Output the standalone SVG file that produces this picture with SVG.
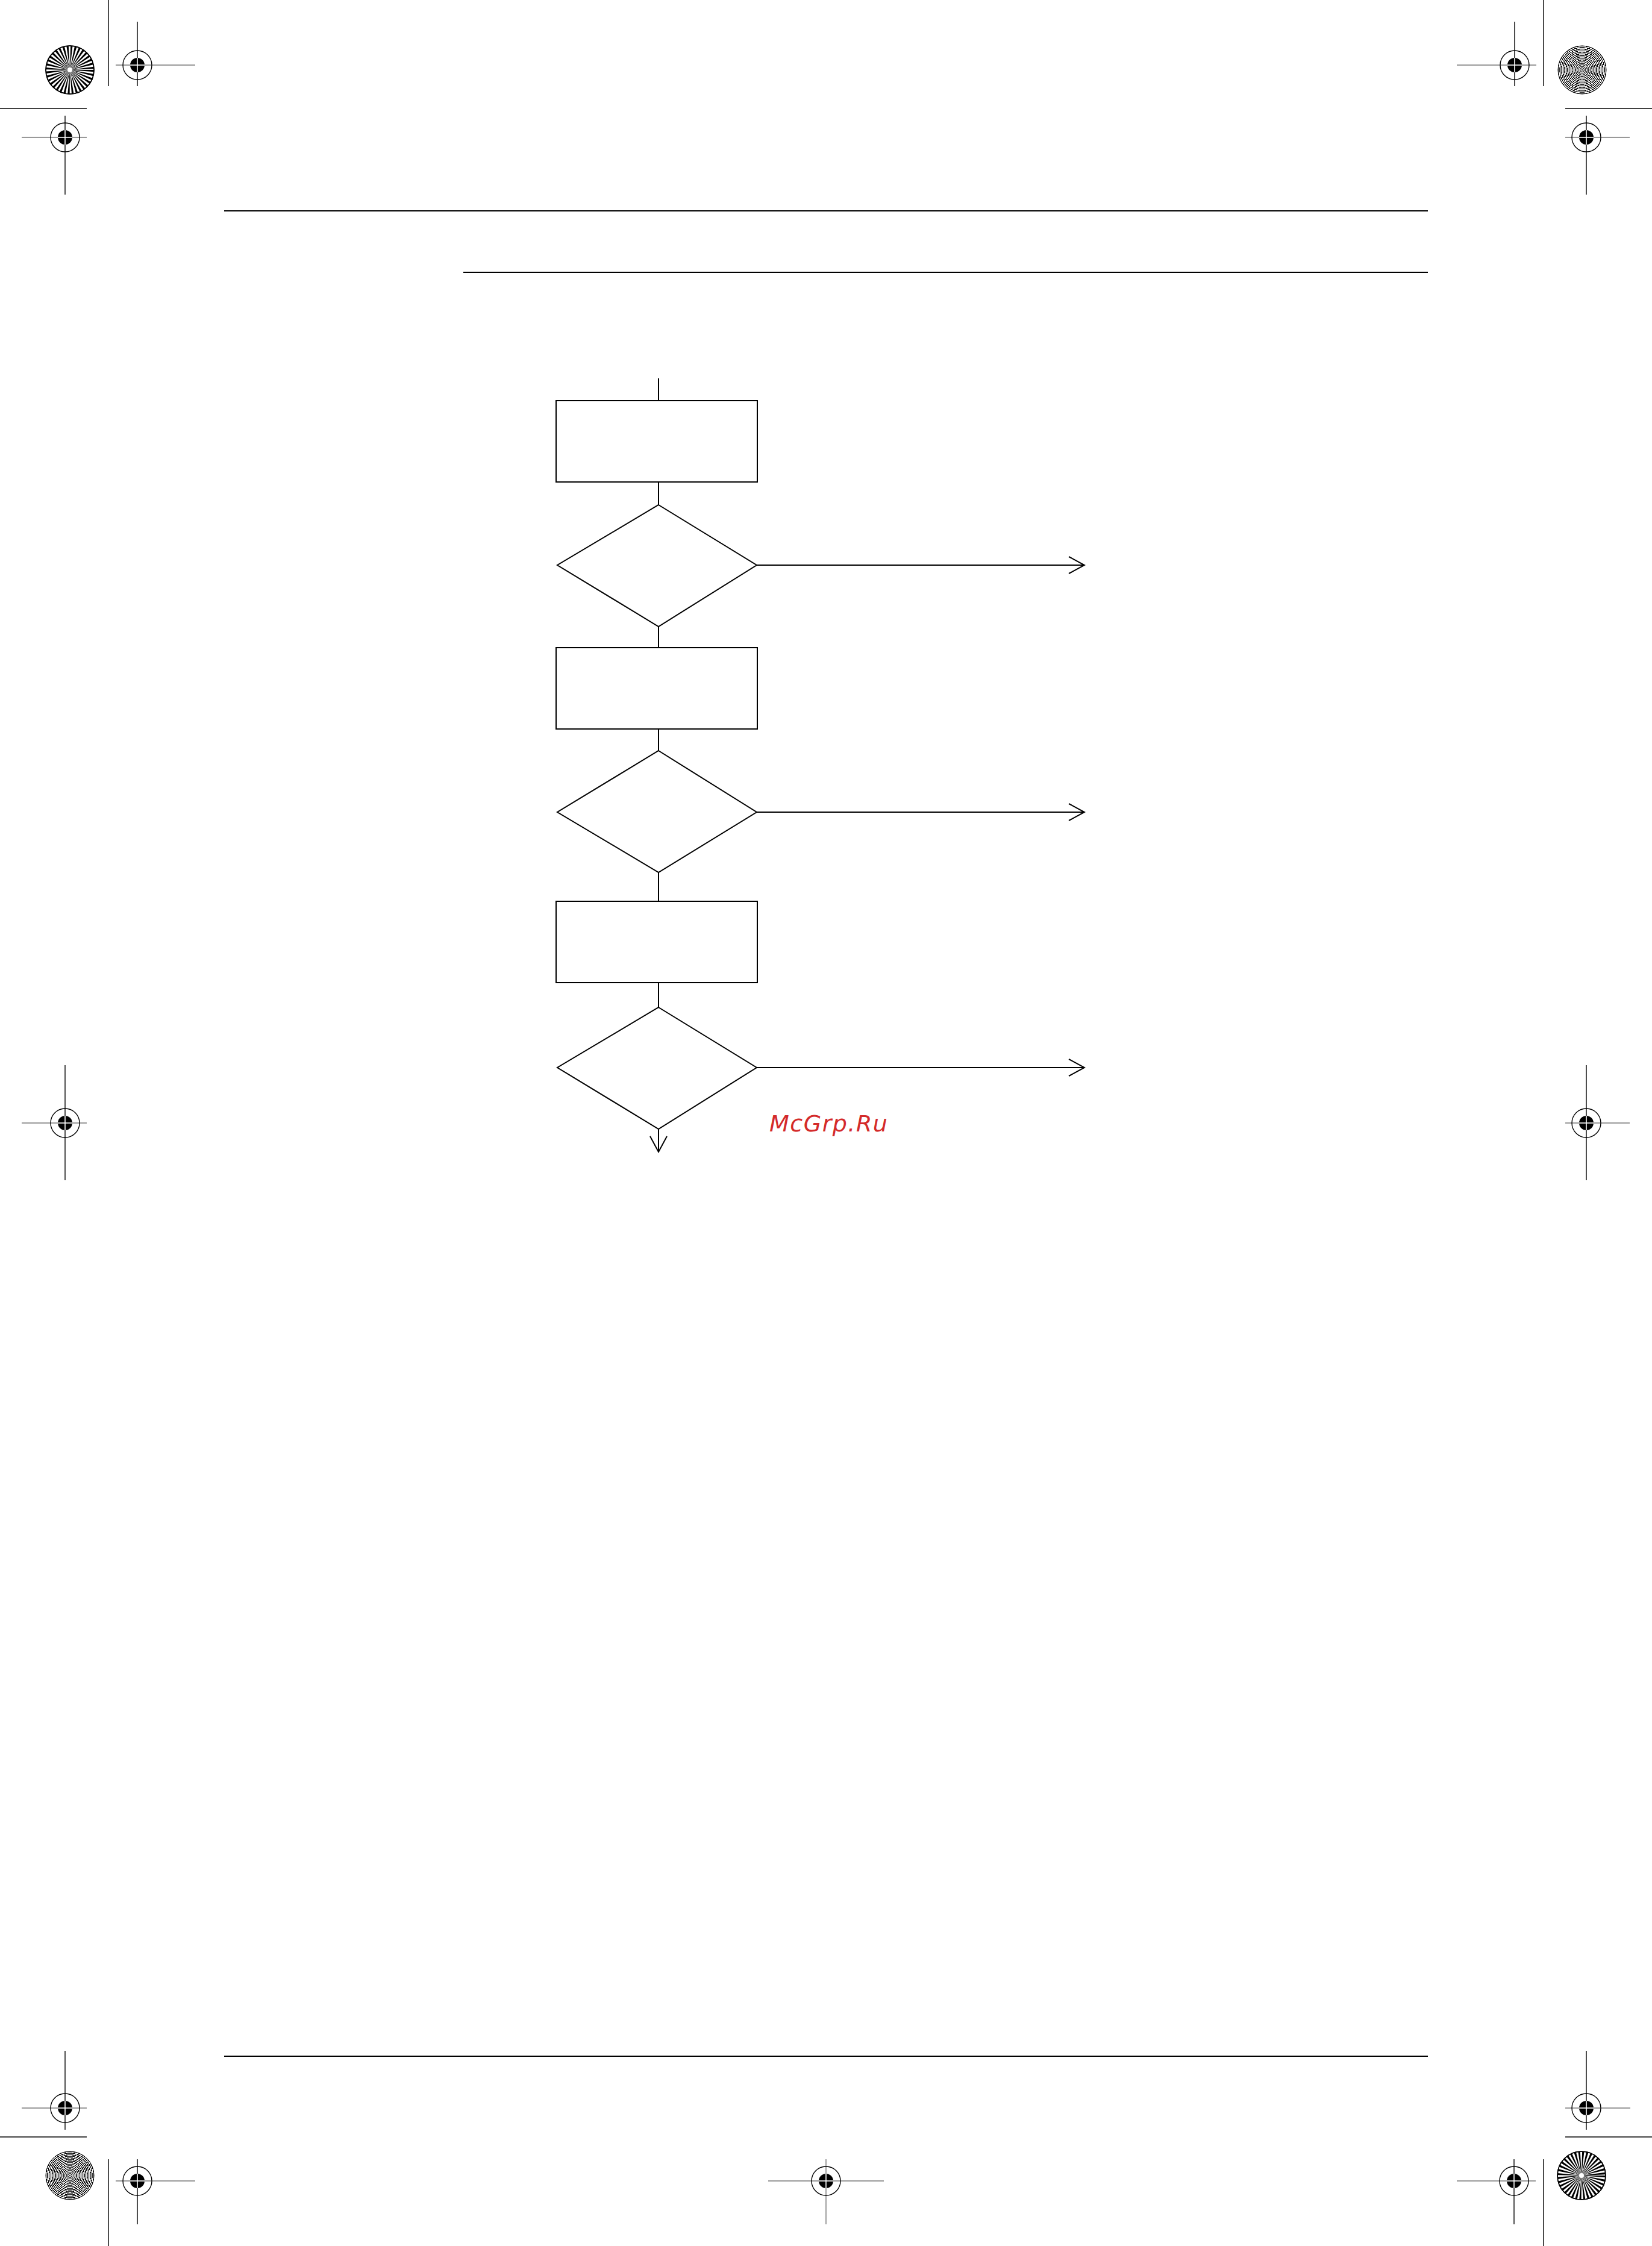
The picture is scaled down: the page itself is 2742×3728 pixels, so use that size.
<svg xmlns="http://www.w3.org/2000/svg" width="2742" height="3728" viewBox="0 0 2742 3728">
<style>
.pl{stroke:#000;stroke-width:2.2;fill:none}
.fl{stroke:#000;stroke-width:2;fill:#fff}
.cn{stroke:#000;stroke-width:2;fill:none}
.hl{stroke:#777;stroke-width:1.4}
.vl{stroke:#000;stroke-width:1.4}
.ring{stroke:#000;stroke-width:1.4;fill:none}
.wm{font-family:"DejaVu Sans",sans-serif;font-style:italic;font-size:38px;letter-spacing:1.5px;fill:#d42a2a}
</style>
<defs>
<marker id="ah" markerUnits="userSpaceOnUse" markerWidth="30" markerHeight="32" viewBox="0 0 30 32" refX="28" refY="16" orient="auto">
<path d="M2,2 L28,16 L2,30" fill="none" stroke="#000" stroke-width="2"/>
</marker>
<g id="reg">
<line class="hl" x1="-72" y1="0" x2="96" y2="0"/>
<line class="vl" x1="0" y1="-72" x2="0" y2="95"/>
<circle class="ring" r="24"/>
<circle r="12" fill="#000"/>
<line x1="-12" y1="0" x2="12" y2="0" stroke="#fff" stroke-width="1.6"/>
<line x1="0" y1="-12" x2="0" y2="12" stroke="#fff" stroke-width="1.6"/>
</g>
<g id="star">
<circle r="40" fill="#fff" stroke="#000" stroke-width="1.5"/>
<circle r="20" fill="none" stroke="#000" stroke-width="40" stroke-dasharray="1.745 1.745"/>
<circle r="40" fill="none" stroke="#000" stroke-width="1.5"/>
<circle r="4" fill="#fff"/>
</g>
<radialGradient id="rg" gradientUnits="userSpaceOnUse" cx="0" cy="0" r="2.6" spreadMethod="repeat">
<stop offset="0" stop-color="#000"/>
<stop offset="0.5" stop-color="#000"/>
<stop offset="0.5" stop-color="#fff"/>
<stop offset="1" stop-color="#fff"/>
</radialGradient>
<clipPath id="cc"><circle r="40"/></clipPath>
<g id="conc">
<circle r="40" fill="url(#rg)"/>
<g clip-path="url(#cc)" opacity="0.35">
<rect x="-40" y="-5" width="80" height="10" fill="#999"/>
<rect x="-5" y="-40" width="10" height="80" fill="#999"/>
</g>
<circle r="40" fill="none" stroke="#000" stroke-width="1"/>
</g>
</defs>
<rect width="2742" height="3728" fill="#fff"/>

<g id="page-marks">
<line class="vl" x1="180" y1="0" x2="180" y2="143"/>
<line class="vl" x1="0" y1="180" x2="144" y2="180"/>
<line class="vl" x1="2562" y1="0" x2="2562" y2="143"/>
<line class="vl" x1="2598" y1="180" x2="2742" y2="180"/>
<line class="vl" x1="0" y1="3547" x2="144" y2="3547"/>
<line class="vl" x1="180" y1="3584" x2="180" y2="3728"/>
<line class="vl" x1="2598" y1="3547" x2="2742" y2="3547"/>
<line class="vl" x1="2562" y1="3584" x2="2562" y2="3728"/>
<use href="#star" x="116" y="116"/>
<use href="#conc" x="2626" y="116"/>
<use href="#conc" x="116" y="3611"/>
<use href="#star" x="2625" y="3611"/>
<!-- registration marks -->
<g transform="translate(228,108)"><line class="hl" x1="-36" y1="0" x2="96" y2="0"/><line class="vl" x1="0" y1="-72" x2="0" y2="35"/><circle class="ring" r="24"/><circle r="12"/><line x1="-12" x2="12" stroke="#fff" stroke-width="1.6"/><line y1="-12" y2="12" stroke="#fff" stroke-width="1.6"/></g>
<g transform="translate(108,228)"><line class="hl" x1="-72" y1="0" x2="36" y2="0"/><line class="vl" x1="0" y1="-36" x2="0" y2="95"/><circle class="ring" r="24"/><circle r="12"/><line x1="-12" x2="12" stroke="#fff" stroke-width="1.6"/><line y1="-12" y2="12" stroke="#fff" stroke-width="1.6"/></g>
<g transform="translate(2514,108)"><line class="hl" x1="-96" y1="0" x2="36" y2="0"/><line class="vl" x1="0" y1="-72" x2="0" y2="35"/><circle class="ring" r="24"/><circle r="12"/><line x1="-12" x2="12" stroke="#fff" stroke-width="1.6"/><line y1="-12" y2="12" stroke="#fff" stroke-width="1.6"/></g>
<g transform="translate(2633,228)"><line class="hl" x1="-35" y1="0" x2="72" y2="0"/><line class="vl" x1="0" y1="-36" x2="0" y2="95"/><circle class="ring" r="24"/><circle r="12"/><line x1="-12" x2="12" stroke="#fff" stroke-width="1.6"/><line y1="-12" y2="12" stroke="#fff" stroke-width="1.6"/></g>
<g transform="translate(108,1864)"><line class="hl" x1="-72" y1="0" x2="36" y2="0"/><line class="vl" x1="0" y1="-96" x2="0" y2="95"/><circle class="ring" r="24"/><circle r="12"/><line x1="-12" x2="12" stroke="#fff" stroke-width="1.6"/><line y1="-12" y2="12" stroke="#fff" stroke-width="1.6"/></g>
<g transform="translate(2633,1864)"><line class="hl" x1="-35" y1="0" x2="72" y2="0"/><line class="vl" x1="0" y1="-96" x2="0" y2="95"/><circle class="ring" r="24"/><circle r="12"/><line x1="-12" x2="12" stroke="#fff" stroke-width="1.6"/><line y1="-12" y2="12" stroke="#fff" stroke-width="1.6"/></g>
<g transform="translate(108,3499)"><line class="hl" x1="-72" y1="0" x2="36" y2="0"/><line class="vl" x1="0" y1="-95" x2="0" y2="36"/><circle class="ring" r="24"/><circle r="12"/><line x1="-12" x2="12" stroke="#fff" stroke-width="1.6"/><line y1="-12" y2="12" stroke="#fff" stroke-width="1.6"/></g>
<g transform="translate(228,3620)"><line class="hl" x1="-36" y1="0" x2="96" y2="0"/><line class="vl" x1="0" y1="-36" x2="0" y2="72"/><circle class="ring" r="24"/><circle r="12"/><line x1="-12" x2="12" stroke="#fff" stroke-width="1.6"/><line y1="-12" y2="12" stroke="#fff" stroke-width="1.6"/></g>
<g transform="translate(1371,3620)"><line class="hl" x1="-96" y1="0" x2="96" y2="0"/><line class="hl" x1="0" y1="-36" x2="0" y2="72"/><circle class="ring" r="24"/><circle r="12"/><line x1="-12" x2="12" stroke="#fff" stroke-width="1.6"/><line y1="-12" y2="12" stroke="#fff" stroke-width="1.6"/></g>
<g transform="translate(2513,3620)"><line class="hl" x1="-95" y1="0" x2="36" y2="0"/><line class="vl" x1="0" y1="-36" x2="0" y2="72"/><circle class="ring" r="24"/><circle r="12"/><line x1="-12" x2="12" stroke="#fff" stroke-width="1.6"/><line y1="-12" y2="12" stroke="#fff" stroke-width="1.6"/></g>
<g transform="translate(2633,3499)"><line class="hl" x1="-35" y1="0" x2="73" y2="0"/><line class="vl" x1="0" y1="-95" x2="0" y2="36"/><circle class="ring" r="24"/><circle r="12"/><line x1="-12" x2="12" stroke="#fff" stroke-width="1.6"/><line y1="-12" y2="12" stroke="#fff" stroke-width="1.6"/></g>
</g>

<g id="page-rules">
<line class="pl" x1="372" y1="350" x2="2370" y2="350"/>
<line class="pl" x1="769" y1="452" x2="2370" y2="452"/>
<line class="pl" x1="372" y1="3413" x2="2370" y2="3413"/>
</g>

<g id="connectors">
<line class="cn" x1="1093" y1="628" x2="1093" y2="665"/>
<line class="cn" x1="1093" y1="800" x2="1093" y2="838"/>
<line class="cn" x1="1093" y1="1040" x2="1093" y2="1075"/>
<line class="cn" x1="1093" y1="1210" x2="1093" y2="1246"/>
<line class="cn" x1="1093" y1="1448" x2="1093" y2="1496"/>
<line class="cn" x1="1093" y1="1631" x2="1093" y2="1672"/>
<line class="cn" x1="1093" y1="1874" x2="1093" y2="1912" marker-end="url(#ah)"/>
<line class="cn" x1="1256" y1="938" x2="1800" y2="938" marker-end="url(#ah)"/>
<line class="cn" x1="1256" y1="1348" x2="1800" y2="1348" marker-end="url(#ah)"/>
<line class="cn" x1="1256" y1="1772" x2="1800" y2="1772" marker-end="url(#ah)"/>
</g>

<g id="box1"><rect class="fl" x="923" y="665" width="334" height="135"/></g>
<g id="decision1"><polygon class="fl" points="1093,838 1256,938 1093,1040 925,938"/></g>
<g id="box2"><rect class="fl" x="923" y="1075" width="334" height="135"/></g>
<g id="decision2"><polygon class="fl" points="1093,1246 1256,1348 1093,1448 925,1348"/></g>
<g id="box3"><rect class="fl" x="923" y="1496" width="334" height="135"/></g>
<g id="decision3"><polygon class="fl" points="1093,1672 1256,1772 1093,1874 925,1772"/></g>

<text class="wm" x="1277" y="1878">McGrp.Ru</text>
</svg>
